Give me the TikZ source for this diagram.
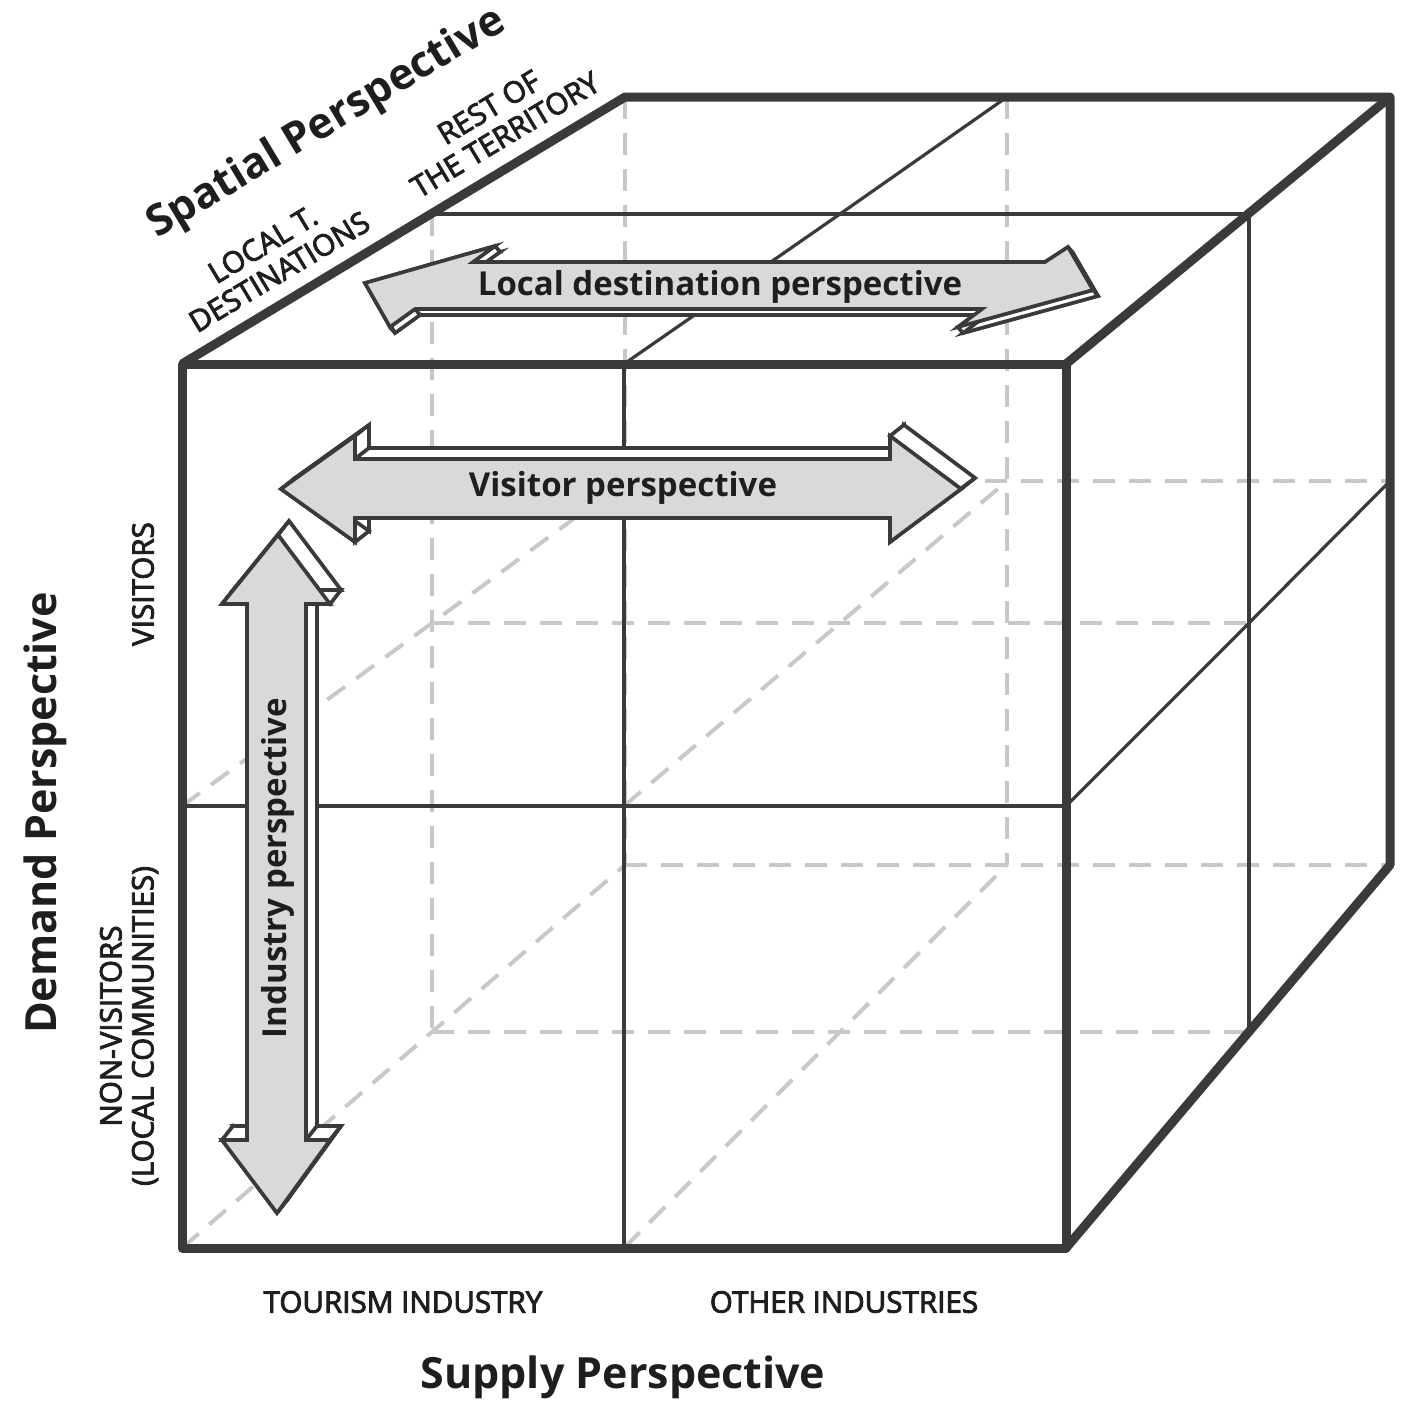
\documentclass[tikz,border=0pt]{standalone}
\usepackage{fontspec}
\setmainfont{Open Sans}
\newfontface\labfont{Open Sans}[RawFeature={embolden=3}]
\definecolor{edgec}{HTML}{3A3A3A}
\definecolor{dashc}{HTML}{C8C8C8}
\definecolor{arrfill}{HTML}{D9D9D9}
\definecolor{txtc}{HTML}{1E1E1E}
\tikzset{
  thickedge/.style={draw=edgec, line width=4.5pt, line join=round},
  thinedge/.style={draw=edgec, line width=1.6pt},
  hidden/.style={draw=dashc, line width=2pt, dash pattern=on 11pt off 7pt},
  arrowface/.style={fill=arrfill, draw=edgec, line width=1.8pt, line join=miter},
  arrowside/.style={fill=white, draw=edgec, line width=1.8pt, line join=miter},
  title/.style={font=\bfseries\fontsize{21.5}{24}\selectfont, text=txtc, inner sep=0pt},
  arrlabel/.style={font=\bfseries\fontsize{16.5}{18}\selectfont, text=txtc, inner sep=0pt},
  axislab/.style={font=\labfont\fontsize{14.8}{16}\selectfont, text=txtc, align=center, inner sep=0pt},
}
\begin{document}
\begin{tikzpicture}[x=0.5pt,y=-0.5pt]
\useasboundingbox (0,0) rectangle (1421,1415);
% ---------- cube corners ----------
% front plane
\coordinate (ftl) at (182,364);  \coordinate (ftr) at (1066,364);
\coordinate (fbl) at (182,1248); \coordinate (fbr) at (1066,1248);
\coordinate (ftm) at (624,364);  \coordinate (fbm) at (624,1248);
\coordinate (flm) at (182,806);  \coordinate (frm) at (1066,806);
\coordinate (fc)  at (624,806);
% middle plane
\coordinate (mtl) at (432,214);  \coordinate (mtr) at (1249,214);
\coordinate (mbl) at (432,1032); \coordinate (mbr) at (1249,1032);
\coordinate (mtm) at (840,214);  \coordinate (mbm) at (840,1032);
\coordinate (mlm) at (432,623);  \coordinate (mrm) at (1249,623);
\coordinate (mc)  at (840,623);
% back plane
\coordinate (btl) at (625,97);   \coordinate (btr) at (1390,97);
\coordinate (bbl) at (625,865);  \coordinate (bbr) at (1390,865);
\coordinate (btm) at (1007,97);  \coordinate (bbm) at (1007,865);
\coordinate (blm) at (625,481);  \coordinate (brm) at (1390,481);
\coordinate (bc)  at (1007,481);

% ---------- hidden (dashed) lines ----------
\draw[hidden] (btl) -- (bbl);
\draw[hidden] (bbl) -- (bbr);
\draw[hidden] (btm) -- (bbm);
\draw[hidden] (blm) -- (brm);
\draw[hidden] (mtl) -- (mbl);
\draw[hidden] (mbl) -- (mbr);
\draw[hidden] (mlm) -- (mrm);
\draw[hidden] (fbl) -- (mbl) -- (bbl);
\draw[hidden] (flm) -- (mlm) -- (blm);
\draw[hidden] (fbm) -- (mbm) -- (bbm);
\draw[hidden] (fc) -- (mc) -- (bc);

% ---------- visible thin lines ----------
\draw[thinedge] (ftm) -- (fbm);
\draw[thinedge] (flm) -- (frm);
\draw[thinedge] (mtl) -- (mtr);
\draw[thinedge] (ftm) -- (mtm) -- (btm);
\draw[thinedge] (mtr) -- (mbr);
\draw[thinedge] (frm) -- (mrm) -- (brm);

% ---------- visible thick edges ----------
\draw[thickedge] (ftl) rectangle (fbr);
\draw[thickedge] (ftl) -- (btl) -- (btr) -- (bbr) -- (fbr);
\draw[thickedge] (ftr) -- (btr);

% ---------- Local destination arrow ----------
\begin{scope}
\def\dx{5}\def\dy{6}
\coordinate (l1) at (365,283);
\coordinate (l2) at (495,246);
\coordinate (l3) at (473,262);
\coordinate (l4) at (1045,262);
\coordinate (l5) at (1068,247);
\coordinate (l6) at (1093,290);
\coordinate (l7) at (958,327);
\coordinate (l8) at (982,309);
\coordinate (l9) at (415,309);
\coordinate (l10) at (390,327);
\filldraw[arrowside] ([shift={(\dx,\dy)}]l1) \foreach \p in {l2,l3,l4,l5,l6,l7,l8,l9,l10} { -- ([shift={(\dx,\dy)}]\p) } -- cycle;
\foreach \a/\b in {l1/l2,l2/l3,l3/l4,l4/l5,l5/l6,l6/l7,l7/l8,l8/l9,l9/l10,l10/l1}
  \filldraw[arrowside] (\a) -- (\b) -- ([shift={(\dx,\dy)}]\b) -- ([shift={(\dx,\dy)}]\a) -- cycle;
\filldraw[arrowface] (l1) -- (l2) -- (l3) -- (l4) -- (l5) -- (l6) -- (l7) -- (l8) -- (l9) -- (l10) -- cycle;
\node[arrlabel] (ldlab) at (720,287) {Local destination perspective};
\end{scope}

% ---------- Visitor arrow ----------
\begin{scope}
\def\dx{14}\def\dy{-11}
\coordinate (v1) at (281,489);
\coordinate (v2) at (355,436);
\coordinate (v3) at (355,459);
\coordinate (v4) at (890,459);
\coordinate (v5) at (890,436);
\coordinate (v6) at (961,489);
\coordinate (v7) at (890,542);
\coordinate (v8) at (890,518);
\coordinate (v9) at (355,518);
\coordinate (v10) at (355,542);
\filldraw[arrowside] ([shift={(\dx,\dy)}]v1) \foreach \p in {v2,v3,v4,v5,v6,v7,v8,v9,v10} { -- ([shift={(\dx,\dy)}]\p) } -- cycle;
\foreach \a/\b in {v1/v2,v2/v3,v3/v4,v4/v5,v5/v6,v6/v7,v7/v8,v8/v9,v9/v10,v10/v1}
  \filldraw[arrowside] (\a) -- (\b) -- ([shift={(\dx,\dy)}]\b) -- ([shift={(\dx,\dy)}]\a) -- cycle;
\filldraw[arrowface] (v1) -- (v2) -- (v3) -- (v4) -- (v5) -- (v6) -- (v7) -- (v8) -- (v9) -- (v10) -- cycle;
\node[arrlabel] (vislab) at (623,488) {Visitor perspective};
\end{scope}

% ---------- Industry arrow ----------
\begin{scope}
\def\dx{11}\def\dy{-14}
\coordinate (i1) at (278,535);
\coordinate (i2) at (330,604);
\coordinate (i3) at (306,604);
\coordinate (i4) at (306,1140);
\coordinate (i5) at (330,1140);
\coordinate (i6) at (277,1213);
\coordinate (i7) at (222,1140);
\coordinate (i8) at (247,1140);
\coordinate (i9) at (247,604);
\coordinate (i10) at (222,604);
\filldraw[arrowside] ([shift={(\dx,\dy)}]i1) \foreach \p in {i2,i3,i4,i5,i6,i7,i8,i9,i10} { -- ([shift={(\dx,\dy)}]\p) } -- cycle;
\foreach \a/\b in {i1/i2,i2/i3,i3/i4,i4/i5,i5/i6,i6/i7,i7/i8,i8/i9,i9/i10,i10/i1}
  \filldraw[arrowside] (\a) -- (\b) -- ([shift={(\dx,\dy)}]\b) -- ([shift={(\dx,\dy)}]\a) -- cycle;
\filldraw[arrowface] (i1) -- (i2) -- (i3) -- (i4) -- (i5) -- (i6) -- (i7) -- (i8) -- (i9) -- (i10) -- cycle;
\node[arrlabel, rotate=90] (indlab) at (278,868) {Industry perspective};
\end{scope}

% ---------- labels ----------
\node[title, rotate=31] (spatial) at (327,124) {Spatial Perspective};
\node[axislab, rotate=31] (localt) at (271,258) {LOCAL T.\\DESTINATIONS};
\node[axislab, rotate=31] (rest) at (497,121) {REST OF\\THE TERRITORY};
\node[title, rotate=90] (demand) at (45,813) {Demand Perspective};
\node[axislab, rotate=90] (visitors) at (143,584) {VISITORS};
\node[axislab, rotate=90] (nonvis) at (129,1026) {NON-VISITORS\\(LOCAL COMMUNITIES)};
\node[axislab] (tourism) at (403,1302) {TOURISM INDUSTRY};
\node[axislab] (other) at (844,1302) {OTHER INDUSTRIES};
\node[title] (supply) at (623,1377) {Supply Perspective};
\end{tikzpicture}
\end{document}
